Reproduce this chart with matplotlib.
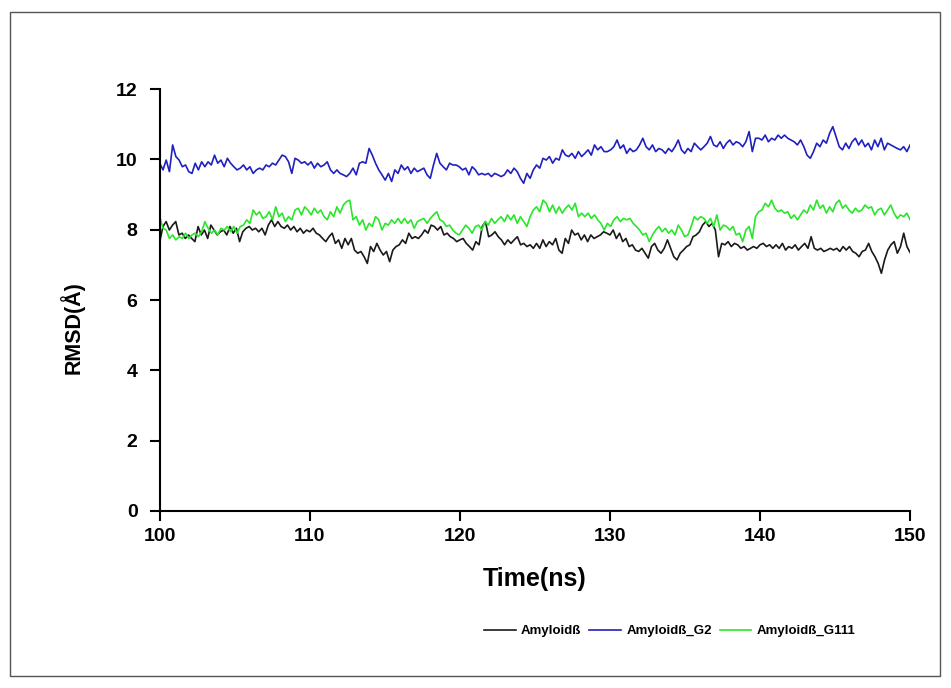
import matplotlib
matplotlib.use("Agg")
import matplotlib.pyplot as plt
from matplotlib.patches import Rectangle
import numpy as np

plt.rcParams['font.family'] = ['Liberation Sans', 'DejaVu Sans']
plt.rcParams['font.weight'] = 'bold'

# RMSD traces (Angstrom) in five ~10 ns chunks
amyloid = (
    [7.66, 8.09, 8.23, 7.99, 8.13, 8.23, 7.85, 7.90, 7.75, 7.85, 7.75, 7.66, 8.09, 7.85, 7.99, 7.75,
     8.13, 7.99, 7.85, 7.94, 7.99, 7.85, 8.09, 7.90, 8.04, 7.66, 7.94, 8.04, 8.09, 7.99, 8.04, 7.94,
     8.04, 7.85, 8.13, 8.28, 8.09, 8.23, 8.09, 8.04, 8.13, 7.99, 8.09, 7.94, 8.04, 7.90, 7.99]
    + [7.94, 8.04, 7.90, 7.85, 7.75, 7.66, 7.80, 7.90, 7.61, 7.71, 7.47, 7.75, 7.57, 7.75, 7.42, 7.33,
       7.38, 7.23, 7.04, 7.52, 7.38, 7.61, 7.42, 7.28, 7.38, 7.09, 7.42, 7.52, 7.57, 7.71, 7.61, 7.90,
       7.75, 7.80, 7.75, 7.85, 7.99, 7.90, 8.13, 8.09, 7.99, 8.09, 7.85, 7.90, 7.80, 7.75, 7.66]
    + [7.71, 7.75, 7.61, 7.52, 7.42, 7.66, 7.57, 8.09, 8.23, 7.80, 7.85, 7.94, 7.80, 7.71, 7.57, 7.71,
       7.61, 7.71, 7.80, 7.57, 7.61, 7.52, 7.57, 7.47, 7.61, 7.47, 7.71, 7.52, 7.66, 7.57, 7.75, 7.42,
       7.33, 7.75, 7.61, 7.99, 7.85, 7.90, 7.71, 7.85, 7.66, 7.85, 7.75, 7.80, 7.85, 7.94, 7.90]
    + [7.85, 7.99, 7.75, 7.90, 7.66, 7.75, 7.52, 7.57, 7.42, 7.38, 7.47, 7.33, 7.19, 7.52, 7.61, 7.42,
       7.33, 7.47, 7.71, 7.47, 7.23, 7.14, 7.33, 7.42, 7.52, 7.57, 7.80, 7.85, 7.94, 8.13, 8.23, 8.09,
       8.18, 7.99, 7.23, 7.61, 7.57, 7.66, 7.52, 7.61, 7.57, 7.47, 7.52, 7.42, 7.47, 7.52, 7.47]
    + [7.57, 7.61, 7.52, 7.57, 7.47, 7.57, 7.47, 7.61, 7.42, 7.52, 7.47, 7.57, 7.42, 7.52, 7.61, 7.47,
       7.80, 7.47, 7.42, 7.47, 7.38, 7.42, 7.47, 7.42, 7.47, 7.38, 7.52, 7.42, 7.52, 7.38, 7.33, 7.23,
       7.38, 7.42, 7.61, 7.38, 7.23, 7.04, 6.76, 7.14, 7.42, 7.57, 7.66, 7.33, 7.52, 7.90, 7.52, 7.35]
)

amyloid_g2 = (
    [9.89, 9.70, 9.98, 9.65, 10.41, 10.08, 9.98, 9.79, 9.84, 9.65, 9.60, 9.89, 9.70, 9.93, 9.79, 9.93,
     9.84, 10.12, 9.89, 9.98, 9.79, 10.03, 9.89, 9.79, 9.70, 9.75, 9.84, 9.70, 9.79, 9.60, 9.70, 9.75,
     9.70, 9.84, 9.79, 9.89, 9.84, 9.98, 10.12, 10.08, 9.93, 9.60, 10.03, 9.98, 9.89]
    + [9.93, 9.84, 9.93, 9.75, 9.89, 9.79, 9.84, 9.93, 9.70, 9.60, 9.70, 9.60, 9.56, 9.51, 9.60, 9.75,
       9.56, 9.89, 9.93, 9.89, 10.31, 10.12, 9.89, 9.70, 9.56, 9.41, 9.60, 9.37, 9.70, 9.60, 9.84, 9.70,
       9.79, 9.60, 9.75, 9.65, 9.70, 9.75, 9.56, 9.46, 9.84, 10.17, 9.89, 9.79, 9.70, 9.89, 9.84]
    + [9.84, 9.79, 9.70, 9.75, 9.56, 9.79, 9.70, 9.56, 9.60, 9.56, 9.60, 9.51, 9.60, 9.56, 9.51, 9.56,
       9.70, 9.60, 9.75, 9.65, 9.46, 9.32, 9.60, 9.46, 9.70, 9.84, 9.75, 10.03, 9.98, 10.08, 9.89, 10.03,
       9.98, 10.27, 10.12, 10.08, 10.17, 10.03, 10.22, 10.08, 10.17, 10.27, 10.12, 10.41, 10.27, 10.36, 10.22]
    + [10.22, 10.27, 10.36, 10.55, 10.31, 10.41, 10.17, 10.31, 10.22, 10.27, 10.41, 10.60, 10.36, 10.27,
       10.41, 10.22, 10.31, 10.27, 10.17, 10.31, 10.22, 10.36, 10.55, 10.27, 10.17, 10.31, 10.22, 10.46,
       10.36, 10.27, 10.36, 10.46, 10.65, 10.41, 10.36, 10.50, 10.31, 10.46, 10.55, 10.41, 10.50, 10.46,
       10.36, 10.50, 10.79, 10.22, 10.60]
    + [10.60, 10.55, 10.69, 10.50, 10.60, 10.55, 10.69, 10.60, 10.69, 10.60, 10.55, 10.50, 10.41, 10.55,
       10.36, 10.12, 10.03, 10.22, 10.46, 10.36, 10.55, 10.46, 10.74, 10.93, 10.65, 10.36, 10.27, 10.46,
       10.31, 10.50, 10.60, 10.41, 10.55, 10.36, 10.46, 10.27, 10.55, 10.36, 10.60, 10.27, 10.46, 10.41,
       10.36, 10.31, 10.27, 10.36, 10.22, 10.41]
)

amyloid_g111 = (
    [8.37, 8.04, 7.99, 7.75, 7.85, 7.71, 7.80, 7.75, 7.90, 7.75, 7.85, 7.90, 7.80, 7.94, 8.23, 8.04,
     7.90, 7.99, 7.85, 8.04, 7.99, 8.09, 7.94, 8.09, 7.90, 8.09, 8.13, 8.28, 8.18, 8.56, 8.42, 8.51,
     8.32, 8.37, 8.51, 8.28, 8.65, 8.37, 8.47, 8.23, 8.37, 8.28, 8.56, 8.61, 8.42, 8.65]
    + [8.56, 8.42, 8.61, 8.47, 8.56, 8.37, 8.28, 8.51, 8.37, 8.65, 8.47, 8.70, 8.80, 8.84, 8.28, 8.37,
       8.13, 8.28, 7.99, 8.18, 8.09, 8.37, 8.28, 7.99, 8.18, 8.13, 8.28, 8.18, 8.32, 8.18, 8.32, 8.18,
       8.28, 8.04, 8.23, 8.28, 8.32, 8.18, 8.32, 8.42, 8.51, 8.28, 8.23, 8.09, 8.13, 7.99, 7.90, 7.85]
    + [7.99, 8.13, 8.04, 7.90, 8.09, 8.13, 7.99, 8.23, 8.13, 8.32, 8.18, 8.28, 8.37, 8.23, 8.42, 8.28,
       8.42, 8.18, 8.37, 8.23, 8.09, 8.37, 8.56, 8.65, 8.51, 8.84, 8.75, 8.51, 8.70, 8.47, 8.65, 8.47,
       8.61, 8.70, 8.56, 8.75, 8.37, 8.47, 8.37, 8.47, 8.32, 8.42, 8.28, 8.18, 7.99, 8.18]
    + [8.09, 8.28, 8.37, 8.23, 8.32, 8.28, 8.32, 8.18, 8.09, 7.99, 7.85, 7.90, 7.66, 7.85, 7.99, 8.09,
       7.94, 8.04, 7.90, 7.99, 7.85, 8.13, 7.99, 7.80, 7.85, 8.09, 8.37, 8.28, 8.37, 8.32, 8.18, 8.32,
       8.09, 8.42, 7.99, 8.13, 8.09, 7.99, 8.09, 7.85, 7.90, 7.66, 7.99, 8.09, 7.75, 8.37, 8.51]
    + [8.56, 8.75, 8.65, 8.84, 8.61, 8.51, 8.56, 8.47, 8.51, 8.32, 8.42, 8.28, 8.42, 8.56, 8.47, 8.70,
       8.56, 8.84, 8.61, 8.70, 8.47, 8.65, 8.51, 8.75, 8.84, 8.61, 8.70, 8.56, 8.47, 8.61, 8.51, 8.56,
       8.70, 8.61, 8.65, 8.42, 8.56, 8.61, 8.42, 8.56, 8.70, 8.47, 8.32, 8.42, 8.37, 8.47, 8.28]
)

labels = ['Amyloidß', 'Amyloidß_G2', 'Amyloidß_G111']
colors = ['#1a1a1a', '#2020c0', '#2ae62a']
t_start, t_end = 100, 150

fig = plt.figure(figsize=(9.51, 6.88), dpi=100)
ax = fig.add_axes([0.168, 0.2573, 0.789, 0.6133])

for series, lab, col in zip([amyloid, amyloid_g2, amyloid_g111], labels, colors):
    t = np.linspace(t_start, t_end, len(series))
    ax.plot(t, series, color=col, lw=1.2, label=lab)

ax.set_xlim(100, 150)
ax.set_ylim(0, 12)
ax.set_xticks(range(100, 151, 10))
ax.set_yticks(range(0, 13, 2))
for side in ['top', 'right']:
    ax.spines[side].set_visible(False)
for side in ['left', 'bottom']:
    ax.spines[side].set_linewidth(1.5)
ax.tick_params(direction='out', length=7, width=1.5, labelsize=14)
ax.tick_params(axis='x', pad=5)
ax.tick_params(axis='y', pad=9)
for lbl in ax.get_xticklabels() + ax.get_yticklabels():
    lbl.set_fontweight('bold')

ax.set_xlabel('Time(ns)', fontsize=18, fontweight='bold', labelpad=16)
ax.set_ylabel('RMSD(Å)', fontsize=15.5, fontweight='bold')
ax.yaxis.set_label_coords(-0.1, 0.434)

leg = fig.legend(loc='center right', bbox_to_anchor=(0.912, 1 - 631 / 688), ncol=3,
                 frameon=False, handlelength=2.4, handletextpad=0.4,
                 columnspacing=0.6, prop={'weight': 'bold', 'size': 9.5})

# thin frame round the whole picture
fig.patches.append(Rectangle((10 / 951, 12 / 688), 930 / 951, 664 / 688, transform=fig.transFigure,
                             fill=False, edgecolor='#555555', lw=1))

fig.savefig('out.png', dpi=100)
